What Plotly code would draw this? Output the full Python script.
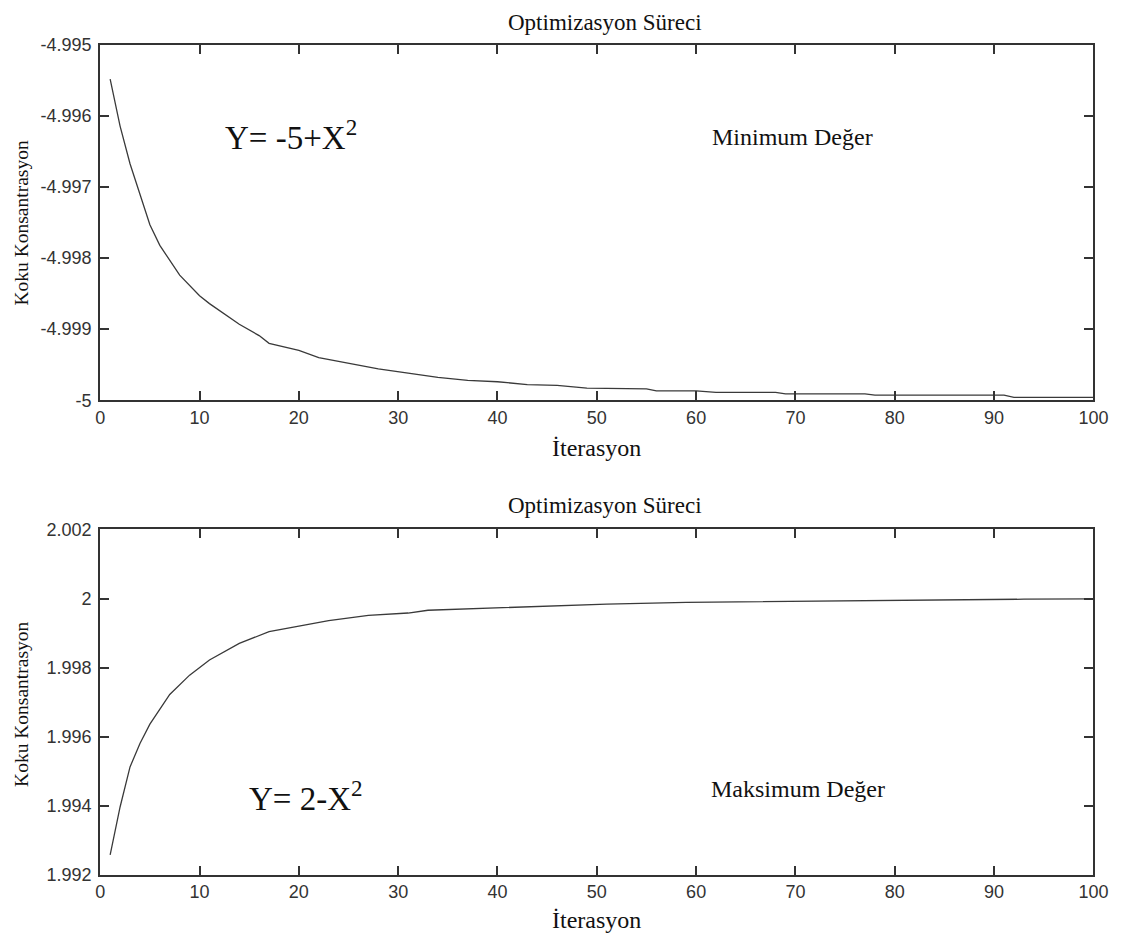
import plotly.graph_objects as go

# ---- data ----
top_x = [1, 2, 3, 4, 5, 6, 8, 10, 11, 14, 16, 17, 20, 22, 25, 28, 31, 34, 37, 40,
         43, 46, 49, 52, 55, 56, 60, 62, 68, 69, 77, 78, 91, 92, 100]
top_y = [-4.99548, -4.99614, -4.99667, -4.99709, -4.99753, -4.99782, -4.99824, -4.99853,
         -4.99864, -4.99893, -4.99909, -4.99920, -4.99930, -4.99940, -4.99948, -4.99956,
         -4.99962, -4.99968, -4.99972, -4.99974, -4.99978, -4.99979, -4.99983, -4.99984,
         -4.99984, -4.99987, -4.99987, -4.99989, -4.99989, -4.99991, -4.99991, -4.99993,
         -4.99993, -4.99996, -4.99996]

bot_x = [1, 2, 3, 4, 5, 7, 9, 11, 14, 17, 20, 23, 27, 31, 33, 38, 42, 46, 51, 59,
         66, 71, 93, 100]
bot_y = [1.99257, 1.99396, 1.99512, 1.99580, 1.99636, 1.99722, 1.99778, 1.99822,
         1.99870, 1.99904, 1.99920, 1.99936, 1.99951, 1.99958, 1.99966, 1.99971,
         1.99977, 1.99979, 1.99984, 1.99989, 1.99991, 1.99993, 1.99998, 1.99999]

x_ticks = [0, 10, 20, 30, 40, 50, 60, 70, 80, 90, 100]
top_yticks = [-5.0, -4.999, -4.998, -4.997, -4.996, -4.995]
top_yticktext = ["-5", "-4.999", "-4.998", "-4.997", "-4.996", "-4.995"]
bot_yticks = [1.992, 1.994, 1.996, 1.998, 2.0, 2.002]
bot_yticktext = ["1.992", "1.994", "1.996", "1.998", "2", "2.002"]

title_text = "Optimizasyon Süreci"
xlabel = "İterasyon"
ylabel = "Koku Konsantrasyon"

SERIF = "Liberation Serif, Times New Roman, serif"
SANS = "Liberation Sans, Arial, sans-serif"
AX = "#333333"

W, H = 1124, 940
# calibration between target pixel positions and figure pixels
SX, AXO, AYO = 0.984, 4.6, 6.7


def px(xp):
    return ((xp - AXO) / SX) / W


def py(yp):
    return 1 - ((yp - AYO) / SX) / H


fig = go.Figure()
fig.add_trace(go.Scatter(x=top_x, y=top_y, mode="lines", xaxis="x", yaxis="y",
                         line=dict(color="#3a3a3a", width=1.3), showlegend=False))
fig.add_trace(go.Scatter(x=bot_x, y=bot_y, mode="lines", xaxis="x2", yaxis="y2",
                         line=dict(color="#3a3a3a", width=1.3), showlegend=False))

xdom = [px(100), px(1095)]
common_x = dict(range=[0, 100], tickvals=x_ticks, ticks="inside", ticklen=9,
                tickcolor=AX, tickwidth=1.5, showline=True, linecolor=AX, linewidth=2,
                mirror="ticks", showgrid=False, zeroline=False, domain=xdom,
                tickfont=dict(family=SANS, size=18, color="#333"))
common_y = dict(ticks="inside", ticklen=9, tickcolor=AX, tickwidth=1.5, showline=True,
                linecolor=AX, linewidth=2, mirror="ticks", showgrid=False, zeroline=False,
                ticklabelstandoff=3,
                tickfont=dict(family=SANS, size=18, color="#333"))

fig.update_layout(
    width=W, height=H,
    margin=dict(l=0, r=0, t=0, b=0),
    paper_bgcolor="white", plot_bgcolor="white",
    xaxis=dict(common_x, anchor="y"),
    yaxis=dict(common_y, anchor="x", range=[-5.0, -4.995], tickvals=top_yticks,
               ticktext=top_yticktext, domain=[py(399), py(42)]),
    xaxis2=dict(common_x, anchor="y2"),
    yaxis2=dict(common_y, anchor="x2", range=[1.992, 2.002], tickvals=bot_yticks,
                ticktext=bot_yticktext, domain=[py(876), py(529)]),
)

ann = []
for yp in (19, 505):
    ann.append(dict(text=title_text, x=px(606), y=py(yp), xref="paper", yref="paper",
                    showarrow=False, font=dict(family=SERIF, size=23, color="#111"),
                    xanchor="center", yanchor="middle"))
for yp in (447, 922):
    ann.append(dict(text=xlabel, x=px(597), y=py(yp), xref="paper", yref="paper",
                    showarrow=False, font=dict(family=SERIF, size=24, color="#111"),
                    xanchor="center", yanchor="middle"))
for yp in (221, 705):
    ann.append(dict(text=ylabel, x=px(21), y=py(yp), xref="paper", yref="paper",
                    showarrow=False, textangle=-90,
                    font=dict(family=SERIF, size=19.5, color="#111"),
                    xanchor="center", yanchor="middle"))
ann.append(dict(text="Y= -5+X<sup>2</sup>", x=12.4, y=-4.99627, xref="x", yref="y",
                showarrow=False, xanchor="left", yanchor="middle",
                font=dict(family=SERIF, size=33, color="#111")))
ann.append(dict(text="Minimum Değer", x=61.4, y=-4.9963, xref="x", yref="y",
                showarrow=False, xanchor="left", yanchor="middle",
                font=dict(family=SERIF, size=24, color="#111")))
ann.append(dict(text="Y= 2-X<sup>2</sup>", x=14.8, y=1.99428, xref="x2", yref="y2",
                showarrow=False, xanchor="left", yanchor="middle",
                font=dict(family=SERIF, size=33, color="#111")))
ann.append(dict(text="Maksimum Değer", x=61.3, y=1.99448, xref="x2", yref="y2",
                showarrow=False, xanchor="left", yanchor="middle",
                font=dict(family=SERIF, size=24, color="#111")))
fig.update_layout(annotations=ann)

fig.write_html("out.html")
